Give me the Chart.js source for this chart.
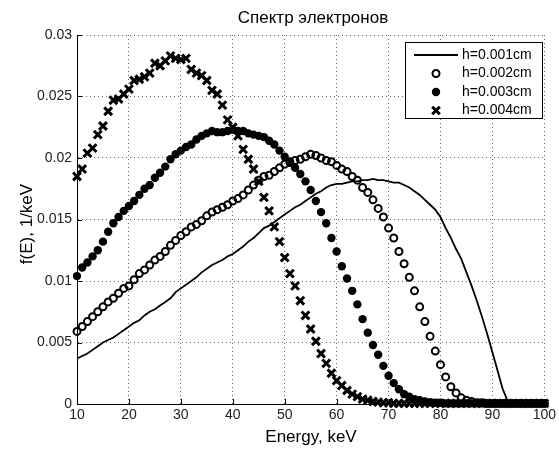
<!DOCTYPE html>
<html><head><meta charset="utf-8">
<script src="https://cdn.jsdelivr.net/npm/chart.js"></script>
<style>html,body{margin:0;padding:0;background:#fff}</style>
</head><body>
<canvas id="c" width="559" height="450"></canvas>
<script>
const energy = [10,11,12,13,14,15,16,17,18,19,20,21,22,23,24,25,26,27,28,29,30,31,32,33,34,35,36,37,38,39,40,41,42,43,44,45,46,47,48,49,50,51,52,53,54,55,56,57,58,59,60,61,62,63,64,65,66,67,68,69,70,71,72,73,74,75,76,77,78,79,80,81,82,83,84,85,86,87,88,89,90,91,92,93,94,95,96,97,98,99,100];

const h001 = [0.0037,0.0039,0.0041,0.0044,0.0047,0.0050,0.0052,0.0054,0.0057,0.0060,
  0.0063,0.0066,0.0068,0.0072,0.0075,0.0077,0.0080,0.0083,0.0086,0.0091,
  0.0094,0.0097,0.0100,0.0103,0.0107,0.0110,0.0113,0.0115,0.0117,0.0120,
  0.0122,0.0125,0.0128,0.0132,0.0135,0.0139,0.0143,0.0145,0.0148,0.0151,
  0.0154,0.0157,0.0160,0.0162,0.0165,0.0168,0.0171,0.0173,0.0176,0.0178,
  0.0179,0.0179,0.0180,0.0181,0.0181,0.0182,0.0182,0.0183,0.0182,0.0182,
  0.0181,0.0180,0.0180,0.0178,0.0176,0.0173,0.0170,0.0166,0.0162,0.0158,
  0.0152,0.0143,0.0135,0.0126,0.0118,0.0107,0.0096,0.0084,0.0071,0.0057,
  0.0042,0.0027,0.0012,0.0002,0,0,0,0,0,0,0];

const h002 = [0.0059,0.0063,0.0067,0.0071,0.0075,0.0079,0.0083,0.0086,0.0090,0.0094,
  0.0096,0.0101,0.0106,0.0109,0.0113,0.0117,0.0120,0.0124,0.0129,0.0133,
  0.0137,0.0140,0.0144,0.0146,0.0149,0.0153,0.0156,0.0158,0.0160,0.0162,
  0.0165,0.0167,0.0170,0.0174,0.0178,0.0182,0.0185,0.0186,0.0189,0.0192,
  0.0195,0.0197,0.0198,0.0199,0.0201,0.0203,0.0202,0.0200,0.0198,0.0197,
  0.0194,0.0191,0.0189,0.0185,0.0182,0.0176,0.0172,0.0166,0.0159,0.0152,
  0.0143,0.0135,0.0124,0.0114,0.0103,0.0092,0.0079,0.0067,0.0055,0.0043,
  0.0032,0.0022,0.0014,0.0009,0.0005,0.0003,0.0002,0.0001,0.0001,0.00005,
  0.00005,0.00005,0.00005,0.00005,0.00005,0.00005,0.00005,0.00005,0.00005,0.00005,0.00005];

const h003 = [0.0104,0.0111,0.0115,0.0120,0.0125,0.0132,0.0140,0.0147,0.0152,0.0157,
  0.0161,0.0165,0.0170,0.0175,0.0178,0.0184,0.0188,0.0193,0.0199,0.0203,
  0.0206,0.0209,0.0211,0.0215,0.0218,0.0220,0.0222,0.0221,0.0221,0.0222,
  0.0223,0.0222,0.0222,0.0220,0.0219,0.0218,0.0217,0.0214,0.0211,0.0206,
  0.0201,0.0196,0.0192,0.0187,0.0181,0.0174,0.0165,0.0156,0.0147,0.0135,
  0.0124,0.0112,0.0102,0.0092,0.0081,0.0069,0.0058,0.0048,0.0040,0.0031,
  0.0023,0.0017,0.0012,0.0008,0.0006,0.0004,0.0003,0.0002,0.00015,0.0001,
  0.0001,0.00005,0.00005,0.00005,0.00005,0.00005,0.00005,0.00005,0.00005,0.00005,
  0.00005,0.00005,0.00005,0.00005,0.00005,0.00005,0.00005,0.00005,0.00005,0.00005,0.00005];

const h004 = [0.0185,0.0191,0.0204,0.0208,0.0219,0.0226,0.0238,0.0247,0.0248,0.0252,
  0.0256,0.0263,0.0264,0.0266,0.0269,0.0277,0.0275,0.0279,0.0283,0.0281,
  0.0280,0.0281,0.0272,0.0269,0.0267,0.0263,0.0255,0.0252,0.0243,0.0231,
  0.0225,0.0218,0.0207,0.0199,0.0191,0.0181,0.0168,0.0157,0.0144,0.0132,
  0.0119,0.0106,0.0096,0.0084,0.0072,0.0061,0.0051,0.0041,0.0033,0.0025,
  0.0019,0.0015,0.0011,0.0008,0.0006,0.0004,0.0003,0.0002,0.00015,0.0001,
  0.0001,0.00005,0.00005,0.00005,0.00005,0.00005,0.00005,0.00005,0.00005,0.00005,
  0.00005,0.00005,0.00005,0.00005,0.00005,0.00005,0.00005,0.00005,0.00005,0.00005,
  0.00005,0.00005,0.00005,0.00005,0.00005,0.00005,0.00005,0.00005,0.00005,0.00005,0.00005];

const xTicks = [10,20,30,40,50,60,70,80,90,100];
const yTicks = [0,0.005,0.01,0.015,0.02,0.025,0.03];
const yTickLabels = ['0','0.005','0.01','0.015','0.02','0.025','0.03'];
const titleText = 'Спектр электронов';
const xLabel = 'Energy, keV';
const yLabel = 'f(E), 1/keV';
const legendLabels = ['h=0.001cm','h=0.002cm','h=0.003cm','h=0.004cm'];

const FONT = "'Liberation Sans', Arial, sans-serif";
const pts = arr => energy.map((e, i) => ({x: e, y: arr[i]}));

function drawMarker(ctx, kind, x, y) {
  ctx.save();
  ctx.strokeStyle = '#000'; ctx.fillStyle = '#000';
  if (kind === 'open') {
    ctx.lineWidth = 2; ctx.beginPath(); ctx.arc(x, y, 3.5, 0, Math.PI * 2); ctx.stroke();
  } else if (kind === 'filled') {
    ctx.beginPath(); ctx.arc(x, y, 4.2, 0, Math.PI * 2); ctx.fill();
  } else if (kind === 'cross') {
    const d = 3.8; ctx.lineWidth = 3; ctx.beginPath();
    ctx.moveTo(x - d, y - d); ctx.lineTo(x + d, y + d);
    ctx.moveTo(x + d, y - d); ctx.lineTo(x - d, y + d); ctx.stroke();
  } else {
    ctx.lineWidth = 2; ctx.beginPath(); ctx.moveTo(x - 22, y); ctx.lineTo(x + 22, y); ctx.stroke();
  }
  ctx.restore();
}

const decor = {
  id: 'decor',
  afterDraw(chart) {
    const {ctx, chartArea: a, scales: {x, y}} = chart;
    ctx.save();
    // inward tick marks
    ctx.strokeStyle = '#000'; ctx.lineWidth = 1; ctx.beginPath();
    xTicks.forEach(v => { const px = Math.round(x.getPixelForValue(v)) + 0.5; ctx.moveTo(px, a.bottom); ctx.lineTo(px, a.bottom - 5); });
    yTicks.forEach(v => { const py = Math.round(y.getPixelForValue(v)) + 0.5; ctx.moveTo(a.left, py); ctx.lineTo(a.left + 5, py); });
    ctx.stroke();
    // title and axis labels
    ctx.fillStyle = '#000'; ctx.textAlign = 'center'; ctx.textBaseline = 'middle';
    ctx.font = '17px ' + FONT;
    ctx.fillText(titleText, 313, 18);
    ctx.font = '17px ' + FONT;
    ctx.fillText(xLabel, 311, 437);
    ctx.save(); ctx.translate(27, 224); ctx.rotate(-Math.PI / 2);
    ctx.fillText(yLabel, 0, 0); ctx.restore();
    // legend
    const L = 405.5, T = 42.5, R = 542.5, B = 118.5;
    ctx.fillStyle = '#fff'; ctx.fillRect(L, T, R - L, B - T);
    ctx.strokeStyle = '#000'; ctx.lineWidth = 1; ctx.strokeRect(L, T, R - L, B - T);
    const kinds = ['line', 'open', 'filled', 'cross'];
    const rows = [55, 73.5, 92, 110.5];
    ctx.font = '14px ' + FONT; ctx.textAlign = 'left'; ctx.fillStyle = '#000';
    kinds.forEach((k, i) => {
      drawMarker(ctx, k, 436, rows[i]);
      ctx.fillStyle = '#000';
      ctx.fillText(legendLabels[i], 462, rows[i]);
    });
    ctx.restore();
  }
};

new Chart(document.getElementById('c'), {
  type: 'scatter',
  data: {
    datasets: [
      {label: legendLabels[0], data: pts(h001), showLine: true, borderColor: '#000', borderWidth: 1.8, pointRadius: 0, tension: 0, clip: false, order: 4},
      {label: legendLabels[1], data: pts(h002), pointStyle: 'circle', pointRadius: 3.5, borderWidth: 2, borderColor: '#000', backgroundColor: 'rgba(0,0,0,0)', clip: false, order: 3},
      {label: legendLabels[2], data: pts(h003), pointStyle: 'circle', pointRadius: 4.2, borderWidth: 0, borderColor: '#000', backgroundColor: '#000', clip: false, order: 2},
      {label: legendLabels[3], data: pts(h004), pointStyle: 'crossRot', pointRadius: 5.5, borderWidth: 3, borderColor: '#000', backgroundColor: '#000', clip: false, order: 1}
    ]
  },
  options: {
    responsive: false,
    animation: false,
    events: [],
    layout: {padding: {left: 0, right: 13, top: 35, bottom: 0}},
    plugins: {legend: {display: false}, title: {display: false}, tooltip: {enabled: false}},
    scales: {
      x: {
        type: 'linear', min: 10, max: 100,
        afterFit: s => { s.height = 46; },
        afterBuildTicks: s => { s.ticks = xTicks.map(v => ({value: v})); },
        grid: {color: '#666', lineWidth: 1, drawTicks: false},
        border: {display: true, color: '#000', width: 1, dash: [1, 3]},
        ticks: {font: {family: FONT, size: 14}, color: '#222', padding: 3, maxRotation: 0, autoSkip: false, callback: v => String(v)}
      },
      y: {
        type: 'linear', min: 0, max: 0.03,
        afterFit: s => { s.width = 77; },
        afterBuildTicks: s => { s.ticks = yTicks.map(v => ({value: v})); },
        grid: {color: '#666', lineWidth: 1, drawTicks: false},
        border: {display: true, color: '#000', width: 1, dash: [1, 3]},
        ticks: {font: {family: FONT, size: 14}, color: '#222', padding: 5, autoSkip: false, callback: (v, i) => yTickLabels[i]}
      }
    }
  },
  plugins: [decor]
});
</script>
</body></html>
